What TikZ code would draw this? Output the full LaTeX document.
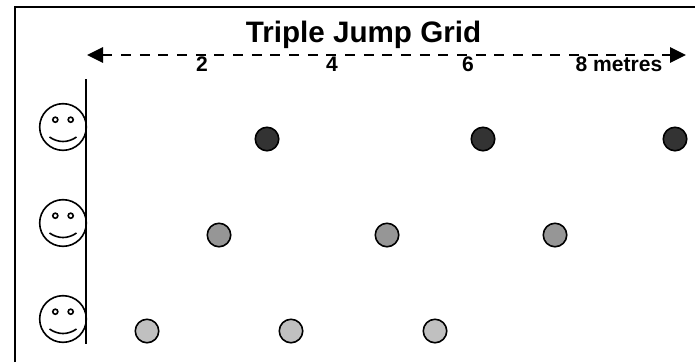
\documentclass[tikz,border=0pt]{standalone}
\usepackage{fontspec}
\setmainfont{Liberation Sans}
\usetikzlibrary{arrows.meta}
\definecolor{dotdark}{HTML}{333333}
\definecolor{dotmid}{HTML}{969696}
\definecolor{dotlight}{HTML}{C0C0C0}
\tikzset{
  jumpdot/.style={circle,draw=black,line width=1.2pt,minimum size=17.6pt,inner sep=0pt},
  distlabel/.style={font=\fontsize{15.8}{18}\selectfont\bfseries,inner sep=0pt},
  facepart/.style={circle,draw=black,line width=1.2pt,inner sep=0pt},
}
\newcommand{\smiley}[3]{%
  \node[facepart,minimum size=35pt] (#3) at (#1,#2) {};
  \node[facepart,minimum size=3.8pt] (#3l) at (#1-7.7,#2-7.3) {};
  \node[facepart,minimum size=3.8pt] (#3r) at (#1+7.7,#2-7.3) {};
  \draw[line width=1.2pt] (#1-13.5,#2+10) .. controls (#1-5,#2+16) and (#1+5,#2+16) .. (#1+13.5,#2+10);
}

\begin{document}
\begin{tikzpicture}[x=0.75pt,y=-0.75pt]
  \useasboundingbox (0,0) rectangle (695,362);
  \draw[line width=1.3pt] (15,362) -- (15,7) -- (695,7);
  \coordinate (axistop) at (86,79);
  \coordinate (axisbot) at (86,344);
  \draw[line width=1.3pt] (axistop) -- (axisbot);
  \coordinate (runstart) at (87,55);
  \coordinate (runend) at (686,55);
  \draw[line width=1.6pt,dash pattern=on 7.5pt off 6.5pt,{Triangle[length=12pt,width=11.5pt]}-{Triangle[length=12pt,width=11.5pt]}] (runstart) -- (runend);
  \node[font=\fontsize{22.2}{26}\selectfont\bfseries,inner sep=0pt] (title) at (363.5,35) {Triple Jump Grid};
  \foreach \x/\t/\n in {202/2/two, 332/4/four, 468/6/six, 619/8 metres/eight} {
    \node[distlabel] (\n) at (\x,64) {\t};
  }
  \smiley{63}{127}{faceone}
  \smiley{63}{223}{facetwo}
  \smiley{63}{319}{facethree}
  \foreach \x/\n in {267/a, 483/b, 675/c} {
    \node[jumpdot,fill=dotdark] (top\n) at (\x,139) {};
  }
  \foreach \x/\n in {219/a, 387/b, 555/c} {
    \node[jumpdot,fill=dotmid] (mid\n) at (\x,235) {};
  }
  \foreach \x/\n in {147/a, 291/b, 435/c} {
    \node[jumpdot,fill=dotlight] (low\n) at (\x,331) {};
  }
\end{tikzpicture}
\end{document}
